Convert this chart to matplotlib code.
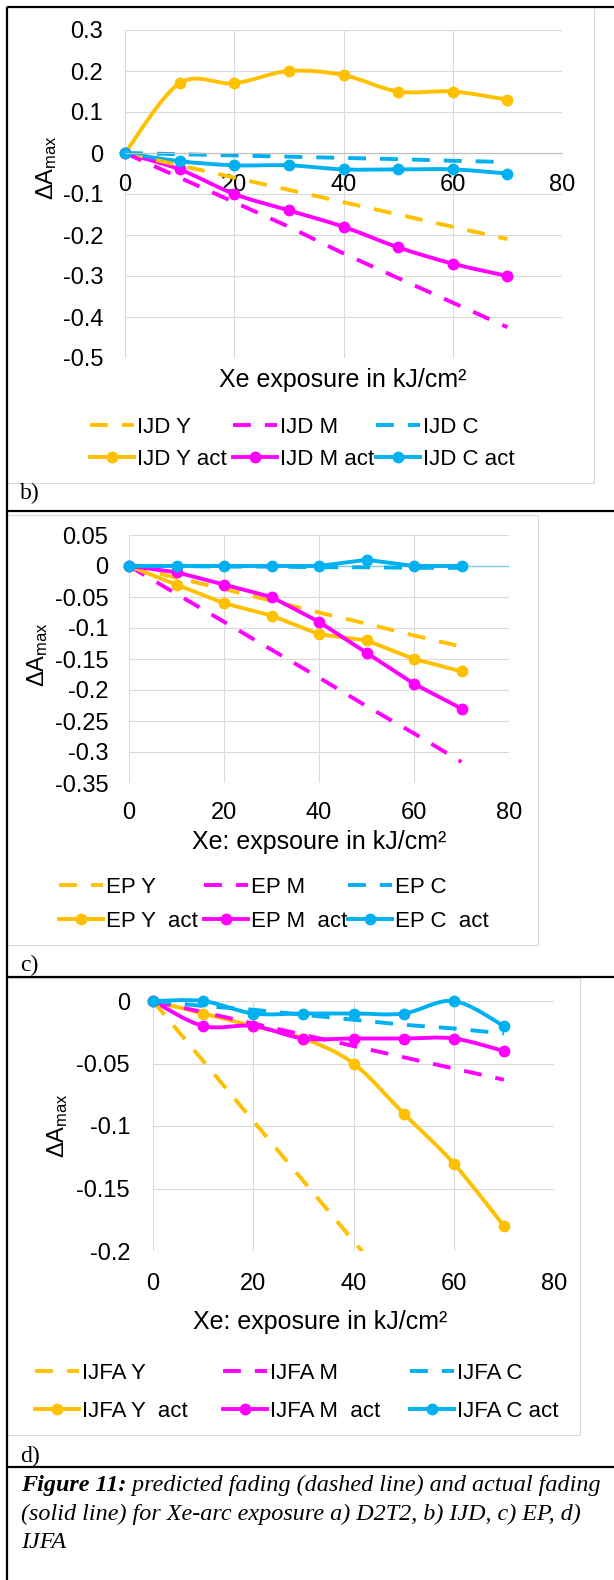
import numpy as np
import matplotlib
matplotlib.use("Agg")
import matplotlib.pyplot as plt
from matplotlib.path import Path
from matplotlib.patches import PathPatch, Rectangle
from matplotlib.lines import Line2D
from matplotlib.ticker import FixedLocator, FuncFormatter

plt.rcParams["font.family"] = ["Liberation Sans", "DejaVu Sans"]
plt.rcParams["mathtext.fontset"] = "custom"
plt.rcParams["mathtext.rm"] = "Liberation Sans"
plt.rcParams["mathtext.it"] = "Liberation Sans:italic"
plt.rcParams["axes.unicode_minus"] = False

# ---------------- data ----------------
x_exposure = [0, 10, 20, 30, 40, 50, 60, 70]

# b) IJD
ijd_y_pred = [0, -0.03, -0.06, -0.09, -0.12, -0.15, -0.18, -0.21]
ijd_m_pred = [0, -0.06, -0.12, -0.18, -0.245, -0.305, -0.365, -0.425]
ijd_c_pred = [0, -0.003, -0.006, -0.009, -0.012, -0.015, -0.019, -0.022]
ijd_y_act = [0, 0.17, 0.17, 0.20, 0.19, 0.15, 0.15, 0.13]
ijd_m_act = [0, -0.04, -0.10, -0.14, -0.18, -0.23, -0.27, -0.30]
ijd_c_act = [0, -0.02, -0.03, -0.03, -0.04, -0.04, -0.04, -0.05]

# c) EP
ep_y_pred = [0, -0.019, -0.037, -0.056, -0.075, -0.093, -0.112, -0.13]
ep_m_pred = [0, -0.045, -0.09, -0.135, -0.18, -0.226, -0.27, -0.316]
ep_c_pred = [0, 0, -0.001, -0.001, -0.002, -0.002, -0.003, -0.003]
ep_y_act = [0, -0.03, -0.06, -0.08, -0.11, -0.12, -0.15, -0.17]
ep_m_act = [0, -0.01, -0.03, -0.05, -0.09, -0.14, -0.19, -0.23]
ep_c_act = [0, 0, 0, 0, 0, 0.01, 0, 0]

# d) IJFA
ijfa_y_pred = [0, -0.048, -0.096, -0.144, -0.192, -0.24, -0.288, -0.336]
ijfa_m_pred = [0, -0.009, -0.018, -0.027, -0.036, -0.045, -0.054, -0.063]
ijfa_c_pred = [0, -0.004, -0.007, -0.011, -0.015, -0.019, -0.022, -0.026]
ijfa_y_act = [0, -0.01, -0.02, -0.03, -0.05, -0.09, -0.13, -0.18]
ijfa_m_act = [0, -0.02, -0.02, -0.03, -0.03, -0.03, -0.03, -0.04]
ijfa_c_act = [0, 0, -0.01, -0.01, -0.01, -0.01, 0, -0.02]

labels_b = ["IJD Y", "IJD M", "IJD C", "IJD Y act", "IJD M act", "IJD C act"]
labels_c = ["EP Y", "EP M", "EP C", "EP Y  act", "EP M  act", "EP C  act"]
labels_d = ["IJFA Y", "IJFA M", "IJFA C", "IJFA Y  act", "IJFA M  act", "IJFA C act"]

x_ticks = [0, 20, 40, 60, 80]
y_ticks_b = [0.3, 0.2, 0.1, 0, -0.1, -0.2, -0.3, -0.4, -0.5]
y_ticks_c = [0.05, 0, -0.05, -0.1, -0.15, -0.2, -0.25, -0.3, -0.35]
y_ticks_d = [0, -0.05, -0.1, -0.15, -0.2]

xlabel_b = "Xe exposure in kJ/cm²"
xlabel_c = "Xe: expsoure in kJ/cm²"
xlabel_d = "Xe: exposure in kJ/cm²"
ylabel = "ΔA$_{\\mathrm{max}}$"

caption_bold = "Figure 11:"
caption_rest = " predicted fading (dashed line) and actual fading"
caption_line2 = "(solid line) for Xe-arc exposure a) D2T2, b) IJD, c) EP, d)"
caption_line3 = "IJFA"

# ---------------- style ----------------
YEL, MAG, CYA = "#FFC000", "#FF00FF", "#00B0F0"
GRID = "#D9D9D9"
LW = 2.8
MS = 7.5
DASH = (0, (4.6, 3.6))
TICK_FS = 17
TITLE_FS = 18
LEG_FS = 16
LEG_PX = LEG_FS * 100 / 72

W, H = 614, 1580
fig = plt.figure(figsize=(W / 100, H / 100), dpi=100)
fig.patch.set_facecolor("white")

ov = fig.add_axes([0, 0, 1, 1])
ov.set_xlim(0, W)
ov.set_ylim(H, 0)
ov.axis("off")


def axes_px(l, t, r, b):
    return fig.add_axes([l / W, 1 - b / H, (r - l) / W, (b - t) / H])


def fmt(v, pos):
    s = f"{round(v, 4):g}"
    return "0" if s == "-0" else s


def smooth_path(xs, ys):
    P = np.column_stack([xs, ys]).astype(float)
    n = len(P)
    verts = [P[0]]
    codes = [Path.MOVETO]
    for i in range(n - 1):
        p0 = P[i - 1] if i > 0 else P[i]
        p1, p2 = P[i], P[i + 1]
        p3 = P[i + 2] if i + 2 < n else P[i + 1]
        verts += [p1 + (p2 - p0) / 6, p2 - (p3 - p1) / 6, p2]
        codes += [Path.CURVE4] * 3
    return Path(verts, codes)


def setup(ax, ylim, yticks, ypad, xpad):
    ax.set_xlim(0, 80)
    ax.set_ylim(*ylim)
    ax.xaxis.set_major_locator(FixedLocator(x_ticks))
    ax.yaxis.set_major_locator(FixedLocator(yticks))
    ax.yaxis.set_major_formatter(FuncFormatter(fmt))
    ax.grid(True, color=GRID, lw=0.8)
    ax.set_axisbelow(True)
    for s in ax.spines.values():
        s.set_visible(False)
    ax.tick_params(axis="both", length=0, labelsize=TICK_FS, colors="#000000")
    ax.tick_params(axis="y", pad=ypad)
    ax.tick_params(axis="x", pad=xpad)


def draw_series(ax, preds, acts, smooth):
    cols = [YEL, MAG, CYA]
    for p, c in zip(preds, cols):
        ax.plot(x_exposure, p, color=c, lw=LW, linestyle=DASH, clip_on=True)
    for a, c in zip(acts, cols):
        if smooth:
            ax.add_patch(PathPatch(smooth_path(x_exposure, a), fill=False,
                                   edgecolor=c, lw=LW, joinstyle="round",
                                   capstyle="round", clip_on=False))
            ax.plot(x_exposure, a, ls="none", marker="o", ms=MS, color=c, clip_on=False)
        else:
            ax.plot(x_exposure, a, color=c, lw=LW, marker="o", ms=MS,
                    solid_joinstyle="round", clip_on=False)


def legend_cols(labels, col_x, y1, y2):
    cols = [YEL, MAG, CYA]
    yc = (y1 + y2) / 2
    lspace = ((y2 - y1) - 1.0 * LEG_PX) / LEG_PX
    for i, c in enumerate(cols):
        h1 = Line2D([], [], color=c, lw=LW, linestyle=DASH)
        h2 = Line2D([], [], color=c, lw=LW, marker="o", ms=MS)
        fig.legend(handles=[h1, h2], labels=[labels[i], labels[i + 3]],
                   loc="center left", bbox_to_anchor=(col_x[i] / W, 1 - yc / H),
                   bbox_transform=fig.transFigure, frameon=False, borderpad=0,
                   borderaxespad=0, handlelength=2.0, handletextpad=0.1,
                   labelspacing=lspace, fontsize=LEG_FS)


# ---------------- panel b ----------------
axb = axes_px(125, 30, 562, 358)
setup(axb, (-0.5, 0.3), y_ticks_b, 15.8, 15.0)
axb.spines["bottom"].set_visible(True)
axb.spines["bottom"].set_position(("data", 0))
axb.spines["bottom"].set_color("#BFBFBF")
axb.spines["bottom"].set_linewidth(0.8)
draw_series(axb, [ijd_y_pred, ijd_m_pred, ijd_c_pred],
            [ijd_y_act, ijd_m_act, ijd_c_act], smooth=True)

# ---------------- panel c ----------------
axc = axes_px(129, 535, 509, 783)
setup(axc, (-0.35, 0.05), y_ticks_c, 15.0, 13.5)
axc.axhline(0, color="#7FCDF0", lw=1.0, zorder=1.5)
draw_series(axc, [ep_y_pred, ep_m_pred, ep_c_pred],
            [ep_y_act, ep_m_act, ep_c_act], smooth=False)

# ---------------- panel d ----------------
axd = axes_px(153, 1001, 554, 1251)
setup(axd, (-0.2, 0), y_ticks_d, 16.5, 15.8)
draw_series(axd, [ijfa_y_pred, ijfa_m_pred, ijfa_c_pred],
            [ijfa_y_act, ijfa_m_act, ijfa_c_act], smooth=True)

# ---------------- decorations (pixel coords) ----------------
for (l, t, r, b) in [(7, 7, 594, 483), (7, 515, 538, 945), (7, 978, 580, 1435)]:
    ov.add_patch(Rectangle((l, t), r - l, b - t, fill=False, edgecolor=GRID, lw=0.8))

black_kw = dict(color="black", lw=1.6, solid_capstyle="butt")
ov.plot([7, 614], [7, 7], **black_kw)
ov.plot([7, 7], [7, 1580], **black_kw)
for yy in (511, 977, 1467):
    ov.plot([7, 614], [yy, yy], **black_kw)

# axis titles
ov.text(343, 380, xlabel_b, fontsize=TITLE_FS, ha="center", va="center")
ov.text(319, 842, xlabel_c, fontsize=TITLE_FS, ha="center", va="center")
ov.text(320, 1322, xlabel_d, fontsize=TITLE_FS, ha="center", va="center")
ov.text(47, 168, ylabel, fontsize=17, rotation=90, ha="center", va="center")
ov.text(38, 655, ylabel, fontsize=17, rotation=90, ha="center", va="center")
ov.text(58, 1126, ylabel, fontsize=17, rotation=90, ha="center", va="center")

# legends
legend_cols(labels_b, [90, 233, 376], 427, 460)
legend_cols(labels_c, [59, 204, 348], 887, 922)
legend_cols(labels_d, [35, 223, 410], 1373, 1412)

# panel letters
serif = ["Liberation Serif", "DejaVu Serif"]
for lab, yy in (("b)", 493), ("c)", 965), ("d)", 1456)):
    ov.text(20, yy, lab, fontsize=17, family=serif, ha="left", va="center")

# caption
CAP_FS = 17.4
t1 = ov.text(21, 1485, caption_bold, fontsize=CAP_FS, family=serif, style="italic",
             weight="bold", ha="left", va="center")
ov.annotate(caption_rest, xy=(1, 0.5), xycoords=t1, fontsize=CAP_FS, family=serif,
            style="italic", ha="left", va="center")
ov.text(21, 1514, caption_line2, fontsize=CAP_FS, family=serif, style="italic",
        ha="left", va="center")
ov.text(21, 1543, caption_line3, fontsize=CAP_FS, family=serif, style="italic",
        ha="left", va="center")

fig.savefig("out.png", dpi=100, facecolor="white")
